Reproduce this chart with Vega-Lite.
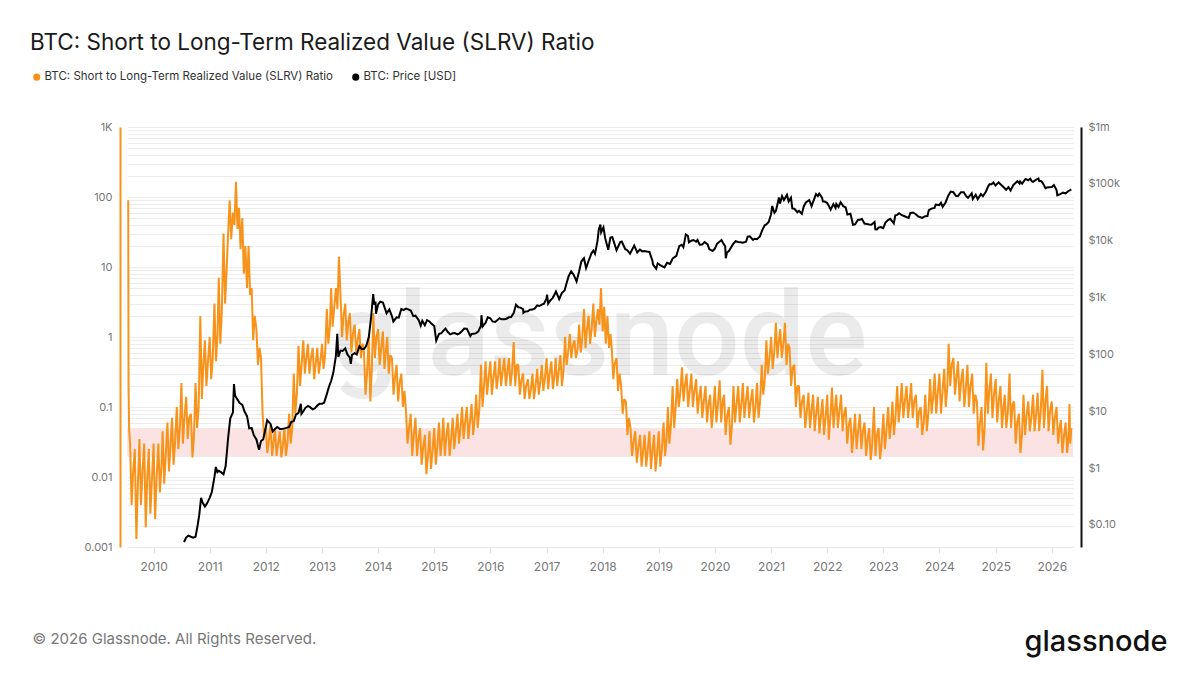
{
  "$schema": "https://vega.github.io/schema/vega-lite/v6.json",
  "width": 946,
  "height": 420,
  "autosize": {"type": "none"},
  "padding": {"left": 127, "top": 127, "right": 127, "bottom": 128},
  "background": "white",
  "title": {
    "text": "BTC: Short to Long-Term Realized Value (SLRV) Ratio",
    "anchor": "start",
    "frame": "group",
    "dx": -97,
    "offset": 17,
    "fontSize": 22.5,
    "fontWeight": 400,
    "font": "Inter",
    "color": "#1a1a1a"
  },
  "config": {
    "view": {"stroke": null},
    "font": "Inter"
  },
  "datasets": {
    "band": [{"lo": 0.02, "hi": 0.05}],
    "wm": [{"t": "glassnode"}],
    "slrv": [
      {"d":"2009-07-20","v":90},{"d":"2009-07-22","v":0.19},{"d":"2009-07-26","v":0.047},
      {"d":"2009-08-01","v":0.03},{"d":"2009-08-11","v":0.004},{"d":"2009-08-21","v":0.012},
      {"d":"2009-09-01","v":0.025},{"d":"2009-09-11","v":0.0013},{"d":"2009-09-21","v":0.008},
      {"d":"2009-10-01","v":0.035},{"d":"2009-10-11","v":0.004},{"d":"2009-10-21","v":0.012},
      {"d":"2009-11-01","v":0.03},{"d":"2009-11-11","v":0.0019},{"d":"2009-11-21","v":0.01},
      {"d":"2009-12-01","v":0.025},{"d":"2009-12-11","v":0.003},{"d":"2009-12-21","v":0.009},
      {"d":"2010-01-01","v":0.03},{"d":"2010-01-11","v":0.0025},{"d":"2010-01-21","v":0.01},
      {"d":"2010-02-01","v":0.03},{"d":"2010-02-11","v":0.006},{"d":"2010-02-21","v":0.014},
      {"d":"2010-03-01","v":0.045},{"d":"2010-03-11","v":0.008},{"d":"2010-03-21","v":0.02},
      {"d":"2010-04-01","v":0.06},{"d":"2010-04-11","v":0.012},{"d":"2010-04-21","v":0.028},
      {"d":"2010-05-01","v":0.07},{"d":"2010-05-11","v":0.015},{"d":"2010-05-21","v":0.032},
      {"d":"2010-06-01","v":0.1},{"d":"2010-06-11","v":0.025},{"d":"2010-06-21","v":0.05},
      {"d":"2010-07-01","v":0.22},{"d":"2010-07-11","v":0.03},{"d":"2010-07-21","v":0.07},
      {"d":"2010-08-01","v":0.14},{"d":"2010-08-11","v":0.035},{"d":"2010-08-21","v":0.07},
      {"d":"2010-09-01","v":0.08},{"d":"2010-09-11","v":0.019},{"d":"2010-09-21","v":0.04},
      {"d":"2010-10-01","v":0.22},{"d":"2010-10-11","v":0.05},{"d":"2010-10-21","v":0.1},
      {"d":"2010-11-01","v":2.0},{"d":"2010-11-11","v":0.13},{"d":"2010-11-21","v":0.4},
      {"d":"2010-12-01","v":0.9},{"d":"2010-12-11","v":0.2},{"d":"2010-12-21","v":0.45},
      {"d":"2011-01-01","v":1.0},{"d":"2011-01-11","v":0.25},{"d":"2011-01-21","v":0.5},
      {"d":"2011-02-01","v":3.0},{"d":"2011-02-11","v":0.45},{"d":"2011-02-21","v":1.1},
      {"d":"2011-03-01","v":7},{"d":"2011-03-11","v":0.8},{"d":"2011-03-21","v":2.3},
      {"d":"2011-04-01","v":30},{"d":"2011-04-11","v":3},{"d":"2011-04-21","v":9},
      {"d":"2011-05-01","v":30},{"d":"2011-05-11","v":90},{"d":"2011-05-21","v":25},
      {"d":"2011-06-01","v":60},{"d":"2011-06-11","v":40},{"d":"2011-06-21","v":165},
      {"d":"2011-07-01","v":35},{"d":"2011-07-11","v":70},{"d":"2011-07-21","v":18},
      {"d":"2011-08-01","v":50},{"d":"2011-08-11","v":8},{"d":"2011-08-21","v":20},
      {"d":"2011-09-01","v":5},{"d":"2011-09-11","v":20},{"d":"2011-09-21","v":4},
      {"d":"2011-10-01","v":5},{"d":"2011-10-11","v":0.9},{"d":"2011-10-21","v":2},
      {"d":"2011-11-01","v":1.3},{"d":"2011-11-11","v":0.4},{"d":"2011-11-21","v":0.7},
      {"d":"2011-12-01","v":0.5},{"d":"2011-12-11","v":0.08},{"d":"2011-12-21","v":0.04},
      {"d":"2012-01-01","v":0.05},{"d":"2012-01-11","v":0.022},{"d":"2012-01-21","v":0.033},
      {"d":"2012-02-01","v":0.055},{"d":"2012-02-11","v":0.02},{"d":"2012-02-21","v":0.032},
      {"d":"2012-03-01","v":0.05},{"d":"2012-03-11","v":0.02},{"d":"2012-03-21","v":0.03},
      {"d":"2012-04-01","v":0.045},{"d":"2012-04-11","v":0.019},{"d":"2012-04-21","v":0.028},
      {"d":"2012-05-01","v":0.05},{"d":"2012-05-11","v":0.02},{"d":"2012-05-21","v":0.03},
      {"d":"2012-06-01","v":0.08},{"d":"2012-06-11","v":0.03},{"d":"2012-06-21","v":0.05},
      {"d":"2012-07-01","v":0.3},{"d":"2012-07-11","v":0.08},{"d":"2012-07-21","v":0.15},
      {"d":"2012-08-01","v":0.75},{"d":"2012-08-11","v":0.2},{"d":"2012-08-21","v":0.4},
      {"d":"2012-09-01","v":0.9},{"d":"2012-09-11","v":0.3},{"d":"2012-09-21","v":0.5},
      {"d":"2012-10-01","v":0.8},{"d":"2012-10-11","v":0.3},{"d":"2012-10-21","v":0.5},
      {"d":"2012-11-01","v":0.7},{"d":"2012-11-11","v":0.25},{"d":"2012-11-21","v":0.42},
      {"d":"2012-12-01","v":0.7},{"d":"2012-12-11","v":0.3},{"d":"2012-12-21","v":0.45},
      {"d":"2013-01-01","v":0.8},{"d":"2013-01-11","v":0.35},{"d":"2013-01-21","v":0.55},
      {"d":"2013-02-01","v":2.5},{"d":"2013-02-11","v":0.8},{"d":"2013-02-21","v":1.4},
      {"d":"2013-03-01","v":5},{"d":"2013-03-11","v":1.4},{"d":"2013-03-21","v":2.6},
      {"d":"2013-04-01","v":5},{"d":"2013-04-11","v":2.5},{"d":"2013-04-21","v":14},
      {"d":"2013-05-01","v":4},{"d":"2013-05-11","v":1.0},{"d":"2013-05-21","v":2},
      {"d":"2013-06-01","v":3},{"d":"2013-06-11","v":0.9},{"d":"2013-06-21","v":1.6},
      {"d":"2013-07-01","v":2.2},{"d":"2013-07-11","v":0.6},{"d":"2013-07-21","v":1.1},
      {"d":"2013-08-01","v":1.5},{"d":"2013-08-11","v":0.6},{"d":"2013-08-21","v":0.9},
      {"d":"2013-09-01","v":1.3},{"d":"2013-09-11","v":0.5},{"d":"2013-09-21","v":0.8},
      {"d":"2013-10-01","v":0.6},{"d":"2013-10-11","v":0.15},{"d":"2013-10-21","v":0.3},
      {"d":"2013-11-01","v":1.0},{"d":"2013-11-11","v":0.12},{"d":"2013-11-21","v":0.35},
      {"d":"2013-12-01","v":2.2},{"d":"2013-12-11","v":0.5},{"d":"2013-12-21","v":1.0},
      {"d":"2014-01-01","v":1.3},{"d":"2014-01-11","v":0.4},{"d":"2014-01-21","v":0.7},
      {"d":"2014-02-01","v":1.2},{"d":"2014-02-11","v":0.35},{"d":"2014-02-21","v":0.65},
      {"d":"2014-03-01","v":1.0},{"d":"2014-03-11","v":0.3},{"d":"2014-03-21","v":0.55},
      {"d":"2014-04-01","v":0.5},{"d":"2014-04-11","v":0.15},{"d":"2014-04-21","v":0.27},
      {"d":"2014-05-01","v":0.4},{"d":"2014-05-11","v":0.12},{"d":"2014-05-21","v":0.22},
      {"d":"2014-06-01","v":0.3},{"d":"2014-06-11","v":0.1},{"d":"2014-06-21","v":0.17},
      {"d":"2014-07-01","v":0.09},{"d":"2014-07-11","v":0.03},{"d":"2014-07-21","v":0.05},
      {"d":"2014-08-01","v":0.08},{"d":"2014-08-11","v":0.02},{"d":"2014-08-21","v":0.04},
      {"d":"2014-09-01","v":0.07},{"d":"2014-09-11","v":0.02},{"d":"2014-09-21","v":0.035},
      {"d":"2014-10-01","v":0.05},{"d":"2014-10-11","v":0.015},{"d":"2014-10-21","v":0.027},
      {"d":"2014-11-01","v":0.04},{"d":"2014-11-11","v":0.011},{"d":"2014-11-21","v":0.02},
      {"d":"2014-12-01","v":0.045},{"d":"2014-12-11","v":0.013},{"d":"2014-12-21","v":0.024},
      {"d":"2015-01-01","v":0.05},{"d":"2015-01-11","v":0.015},{"d":"2015-01-21","v":0.027},
      {"d":"2015-02-01","v":0.06},{"d":"2015-02-11","v":0.02},{"d":"2015-02-21","v":0.035},
      {"d":"2015-03-01","v":0.07},{"d":"2015-03-11","v":0.02},{"d":"2015-03-21","v":0.038},
      {"d":"2015-04-01","v":0.06},{"d":"2015-04-11","v":0.02},{"d":"2015-04-21","v":0.035},
      {"d":"2015-05-01","v":0.07},{"d":"2015-05-11","v":0.025},{"d":"2015-05-21","v":0.042},
      {"d":"2015-06-01","v":0.08},{"d":"2015-06-11","v":0.03},{"d":"2015-06-21","v":0.05},
      {"d":"2015-07-01","v":0.1},{"d":"2015-07-11","v":0.035},{"d":"2015-07-21","v":0.06},
      {"d":"2015-08-01","v":0.1},{"d":"2015-08-11","v":0.035},{"d":"2015-08-21","v":0.06},
      {"d":"2015-09-01","v":0.11},{"d":"2015-09-11","v":0.04},{"d":"2015-09-21","v":0.065},
      {"d":"2015-10-01","v":0.15},{"d":"2015-10-11","v":0.05},{"d":"2015-10-21","v":0.09},
      {"d":"2015-11-01","v":0.4},{"d":"2015-11-11","v":0.1},{"d":"2015-11-21","v":0.2},
      {"d":"2015-12-01","v":0.45},{"d":"2015-12-11","v":0.15},{"d":"2015-12-21","v":0.26},
      {"d":"2016-01-01","v":0.45},{"d":"2016-01-11","v":0.15},{"d":"2016-01-21","v":0.26},
      {"d":"2016-02-01","v":0.45},{"d":"2016-02-11","v":0.18},{"d":"2016-02-21","v":0.28},
      {"d":"2016-03-01","v":0.5},{"d":"2016-03-11","v":0.2},{"d":"2016-03-21","v":0.32},
      {"d":"2016-04-01","v":0.5},{"d":"2016-04-11","v":0.2},{"d":"2016-04-21","v":0.32},
      {"d":"2016-05-01","v":0.5},{"d":"2016-05-11","v":0.2},{"d":"2016-05-21","v":0.32},
      {"d":"2016-06-01","v":0.85},{"d":"2016-06-11","v":0.2},{"d":"2016-06-21","v":0.4},
      {"d":"2016-07-01","v":0.4},{"d":"2016-07-11","v":0.15},{"d":"2016-07-21","v":0.24},
      {"d":"2016-08-01","v":0.3},{"d":"2016-08-11","v":0.13},{"d":"2016-08-21","v":0.2},
      {"d":"2016-09-01","v":0.25},{"d":"2016-09-11","v":0.13},{"d":"2016-09-21","v":0.18},
      {"d":"2016-10-01","v":0.3},{"d":"2016-10-11","v":0.13},{"d":"2016-10-21","v":0.2},
      {"d":"2016-11-01","v":0.35},{"d":"2016-11-11","v":0.15},{"d":"2016-11-21","v":0.23},
      {"d":"2016-12-01","v":0.4},{"d":"2016-12-11","v":0.17},{"d":"2016-12-21","v":0.26},
      {"d":"2017-01-01","v":0.5},{"d":"2017-01-11","v":0.18},{"d":"2017-01-21","v":0.3},
      {"d":"2017-02-01","v":0.45},{"d":"2017-02-11","v":0.18},{"d":"2017-02-21","v":0.28},
      {"d":"2017-03-01","v":0.5},{"d":"2017-03-11","v":0.2},{"d":"2017-03-21","v":0.32},
      {"d":"2017-04-01","v":0.55},{"d":"2017-04-11","v":0.2},{"d":"2017-04-21","v":0.33},
      {"d":"2017-05-01","v":1.0},{"d":"2017-05-11","v":0.4},{"d":"2017-05-21","v":0.6},
      {"d":"2017-06-01","v":1.1},{"d":"2017-06-11","v":0.5},{"d":"2017-06-21","v":0.75},
      {"d":"2017-07-01","v":0.9},{"d":"2017-07-11","v":0.5},{"d":"2017-07-21","v":0.65},
      {"d":"2017-08-01","v":1.5},{"d":"2017-08-11","v":0.6},{"d":"2017-08-21","v":0.95},
      {"d":"2017-09-01","v":2.5},{"d":"2017-09-11","v":0.7},{"d":"2017-09-21","v":1.3},
      {"d":"2017-10-01","v":2.0},{"d":"2017-10-11","v":0.8},{"d":"2017-10-21","v":1.3},
      {"d":"2017-11-01","v":3.0},{"d":"2017-11-11","v":1.0},{"d":"2017-11-21","v":1.7},
      {"d":"2017-12-01","v":2.5},{"d":"2017-12-11","v":1.5},{"d":"2017-12-21","v":5.0},
      {"d":"2018-01-01","v":1.2},{"d":"2018-01-11","v":2.7},{"d":"2018-01-21","v":0.8},
      {"d":"2018-02-01","v":2.0},{"d":"2018-02-11","v":0.7},{"d":"2018-02-21","v":1.1},
      {"d":"2018-03-01","v":0.7},{"d":"2018-03-11","v":0.25},{"d":"2018-03-21","v":0.42},
      {"d":"2018-04-01","v":0.5},{"d":"2018-04-11","v":0.17},{"d":"2018-04-21","v":0.3},
      {"d":"2018-05-01","v":0.2},{"d":"2018-05-11","v":0.08},{"d":"2018-05-21","v":0.13},
      {"d":"2018-06-01","v":0.12},{"d":"2018-06-11","v":0.04},{"d":"2018-06-21","v":0.07},
      {"d":"2018-07-01","v":0.05},{"d":"2018-07-11","v":0.02},{"d":"2018-07-21","v":0.032},
      {"d":"2018-08-01","v":0.045},{"d":"2018-08-11","v":0.016},{"d":"2018-08-21","v":0.027},
      {"d":"2018-09-01","v":0.04},{"d":"2018-09-11","v":0.014},{"d":"2018-09-21","v":0.024},
      {"d":"2018-10-01","v":0.04},{"d":"2018-10-11","v":0.014},{"d":"2018-10-21","v":0.024},
      {"d":"2018-11-01","v":0.045},{"d":"2018-11-11","v":0.013},{"d":"2018-11-21","v":0.024},
      {"d":"2018-12-01","v":0.04},{"d":"2018-12-11","v":0.012},{"d":"2018-12-21","v":0.022},
      {"d":"2019-01-01","v":0.045},{"d":"2019-01-11","v":0.014},{"d":"2019-01-21","v":0.025},
      {"d":"2019-02-01","v":0.06},{"d":"2019-02-11","v":0.02},{"d":"2019-02-21","v":0.035},
      {"d":"2019-03-01","v":0.1},{"d":"2019-03-11","v":0.03},{"d":"2019-03-21","v":0.055},
      {"d":"2019-04-01","v":0.2},{"d":"2019-04-11","v":0.05},{"d":"2019-04-21","v":0.1},
      {"d":"2019-05-01","v":0.25},{"d":"2019-05-11","v":0.1},{"d":"2019-05-21","v":0.16},
      {"d":"2019-06-01","v":0.37},{"d":"2019-06-11","v":0.12},{"d":"2019-06-21","v":0.21},
      {"d":"2019-07-01","v":0.3},{"d":"2019-07-11","v":0.1},{"d":"2019-07-21","v":0.17},
      {"d":"2019-08-01","v":0.3},{"d":"2019-08-11","v":0.1},{"d":"2019-08-21","v":0.17},
      {"d":"2019-09-01","v":0.25},{"d":"2019-09-11","v":0.08},{"d":"2019-09-21","v":0.14},
      {"d":"2019-10-01","v":0.2},{"d":"2019-10-11","v":0.07},{"d":"2019-10-21","v":0.12},
      {"d":"2019-11-01","v":0.2},{"d":"2019-11-11","v":0.06},{"d":"2019-11-21","v":0.11},
      {"d":"2019-12-01","v":0.15},{"d":"2019-12-11","v":0.05},{"d":"2019-12-21","v":0.09},
      {"d":"2020-01-01","v":0.2},{"d":"2020-01-11","v":0.06},{"d":"2020-01-21","v":0.11},
      {"d":"2020-02-01","v":0.24},{"d":"2020-02-11","v":0.06},{"d":"2020-02-21","v":0.12},
      {"d":"2020-03-01","v":0.15},{"d":"2020-03-11","v":0.04},{"d":"2020-03-21","v":0.075},
      {"d":"2020-04-01","v":0.1},{"d":"2020-04-11","v":0.029},{"d":"2020-04-21","v":0.055},
      {"d":"2020-05-01","v":0.2},{"d":"2020-05-11","v":0.06},{"d":"2020-05-21","v":0.11},
      {"d":"2020-06-01","v":0.2},{"d":"2020-06-11","v":0.06},{"d":"2020-06-21","v":0.11},
      {"d":"2020-07-01","v":0.22},{"d":"2020-07-11","v":0.07},{"d":"2020-07-21","v":0.12},
      {"d":"2020-08-01","v":0.2},{"d":"2020-08-11","v":0.07},{"d":"2020-08-21","v":0.12},
      {"d":"2020-09-01","v":0.18},{"d":"2020-09-11","v":0.06},{"d":"2020-09-21","v":0.1},
      {"d":"2020-10-01","v":0.22},{"d":"2020-10-11","v":0.07},{"d":"2020-10-21","v":0.12},
      {"d":"2020-11-01","v":0.4},{"d":"2020-11-11","v":0.15},{"d":"2020-11-21","v":0.25},
      {"d":"2020-12-01","v":0.9},{"d":"2020-12-11","v":0.3},{"d":"2020-12-21","v":0.5},
      {"d":"2021-01-01","v":1.0},{"d":"2021-01-11","v":0.35},{"d":"2021-01-21","v":0.6},
      {"d":"2021-02-01","v":1.6},{"d":"2021-02-11","v":0.5},{"d":"2021-02-21","v":0.9},
      {"d":"2021-03-01","v":1.3},{"d":"2021-03-11","v":0.5},{"d":"2021-03-21","v":0.8},
      {"d":"2021-04-01","v":1.6},{"d":"2021-04-11","v":0.4},{"d":"2021-04-21","v":0.8},
      {"d":"2021-05-01","v":0.7},{"d":"2021-05-11","v":0.2},{"d":"2021-05-21","v":0.37},
      {"d":"2021-06-01","v":0.4},{"d":"2021-06-11","v":0.1},{"d":"2021-06-21","v":0.2},
      {"d":"2021-07-01","v":0.2},{"d":"2021-07-11","v":0.07},{"d":"2021-07-21","v":0.12},
      {"d":"2021-08-01","v":0.15},{"d":"2021-08-11","v":0.05},{"d":"2021-08-21","v":0.085},
      {"d":"2021-09-01","v":0.16},{"d":"2021-09-11","v":0.05},{"d":"2021-09-21","v":0.09},
      {"d":"2021-10-01","v":0.15},{"d":"2021-10-11","v":0.045},{"d":"2021-10-21","v":0.08},
      {"d":"2021-11-01","v":0.14},{"d":"2021-11-11","v":0.042},{"d":"2021-11-21","v":0.075},
      {"d":"2021-12-01","v":0.13},{"d":"2021-12-11","v":0.04},{"d":"2021-12-21","v":0.07},
      {"d":"2022-01-01","v":0.15},{"d":"2022-01-11","v":0.034},{"d":"2022-01-21","v":0.07},
      {"d":"2022-02-01","v":0.19},{"d":"2022-02-11","v":0.05},{"d":"2022-02-21","v":0.1},
      {"d":"2022-03-01","v":0.15},{"d":"2022-03-11","v":0.05},{"d":"2022-03-21","v":0.085},
      {"d":"2022-04-01","v":0.15},{"d":"2022-04-11","v":0.045},{"d":"2022-04-21","v":0.08},
      {"d":"2022-05-01","v":0.1},{"d":"2022-05-11","v":0.03},{"d":"2022-05-21","v":0.055},
      {"d":"2022-06-01","v":0.07},{"d":"2022-06-11","v":0.022},{"d":"2022-06-21","v":0.04},
      {"d":"2022-07-01","v":0.08},{"d":"2022-07-11","v":0.025},{"d":"2022-07-21","v":0.045},
      {"d":"2022-08-01","v":0.08},{"d":"2022-08-11","v":0.025},{"d":"2022-08-21","v":0.045},
      {"d":"2022-09-01","v":0.06},{"d":"2022-09-11","v":0.02},{"d":"2022-09-21","v":0.035},
      {"d":"2022-10-01","v":0.05},{"d":"2022-10-11","v":0.0175},{"d":"2022-10-21","v":0.03},
      {"d":"2022-11-01","v":0.1},{"d":"2022-11-11","v":0.02},{"d":"2022-11-21","v":0.04},
      {"d":"2022-12-01","v":0.05},{"d":"2022-12-11","v":0.018},{"d":"2022-12-21","v":0.03},
      {"d":"2023-01-01","v":0.08},{"d":"2023-01-11","v":0.025},{"d":"2023-01-21","v":0.045},
      {"d":"2023-02-01","v":0.1},{"d":"2023-02-11","v":0.035},{"d":"2023-02-21","v":0.06},
      {"d":"2023-03-01","v":0.12},{"d":"2023-03-11","v":0.04},{"d":"2023-03-21","v":0.07},
      {"d":"2023-04-01","v":0.2},{"d":"2023-04-11","v":0.06},{"d":"2023-04-21","v":0.11},
      {"d":"2023-05-01","v":0.22},{"d":"2023-05-11","v":0.07},{"d":"2023-05-21","v":0.12},
      {"d":"2023-06-01","v":0.2},{"d":"2023-06-11","v":0.07},{"d":"2023-06-21","v":0.12},
      {"d":"2023-07-01","v":0.22},{"d":"2023-07-11","v":0.07},{"d":"2023-07-21","v":0.12},
      {"d":"2023-08-01","v":0.15},{"d":"2023-08-11","v":0.05},{"d":"2023-08-21","v":0.085},
      {"d":"2023-09-01","v":0.1},{"d":"2023-09-11","v":0.04},{"d":"2023-09-21","v":0.06},
      {"d":"2023-10-01","v":0.15},{"d":"2023-10-11","v":0.045},{"d":"2023-10-21","v":0.08},
      {"d":"2023-11-01","v":0.25},{"d":"2023-11-11","v":0.08},{"d":"2023-11-21","v":0.14},
      {"d":"2023-12-01","v":0.3},{"d":"2023-12-11","v":0.08},{"d":"2023-12-21","v":0.16},
      {"d":"2024-01-01","v":0.3},{"d":"2024-01-11","v":0.08},{"d":"2024-01-21","v":0.16},
      {"d":"2024-02-01","v":0.35},{"d":"2024-02-11","v":0.1},{"d":"2024-02-21","v":0.19},
      {"d":"2024-03-01","v":0.8},{"d":"2024-03-11","v":0.2},{"d":"2024-03-21","v":0.4},
      {"d":"2024-04-01","v":0.5},{"d":"2024-04-11","v":0.15},{"d":"2024-04-21","v":0.27},
      {"d":"2024-05-01","v":0.45},{"d":"2024-05-11","v":0.12},{"d":"2024-05-21","v":0.23},
      {"d":"2024-06-01","v":0.35},{"d":"2024-06-11","v":0.1},{"d":"2024-06-21","v":0.19},
      {"d":"2024-07-01","v":0.4},{"d":"2024-07-11","v":0.1},{"d":"2024-07-21","v":0.2},
      {"d":"2024-08-01","v":0.3},{"d":"2024-08-11","v":0.08},{"d":"2024-08-21","v":0.15},
      {"d":"2024-09-01","v":0.12},{"d":"2024-09-11","v":0.028},{"d":"2024-09-21","v":0.06},
      {"d":"2024-10-01","v":0.1},{"d":"2024-10-11","v":0.024},{"d":"2024-10-21","v":0.05},
      {"d":"2024-11-01","v":0.43},{"d":"2024-11-11","v":0.08},{"d":"2024-11-21","v":0.18},
      {"d":"2024-12-01","v":0.3},{"d":"2024-12-11","v":0.07},{"d":"2024-12-21","v":0.15},
      {"d":"2025-01-01","v":0.25},{"d":"2025-01-11","v":0.06},{"d":"2025-01-21","v":0.12},
      {"d":"2025-02-01","v":0.2},{"d":"2025-02-11","v":0.05},{"d":"2025-02-21","v":0.1},
      {"d":"2025-03-01","v":0.15},{"d":"2025-03-11","v":0.05},{"d":"2025-03-21","v":0.085},
      {"d":"2025-04-01","v":0.3},{"d":"2025-04-11","v":0.05},{"d":"2025-04-21","v":0.11},
      {"d":"2025-05-01","v":0.12},{"d":"2025-05-11","v":0.03},{"d":"2025-05-21","v":0.06},
      {"d":"2025-06-01","v":0.08},{"d":"2025-06-11","v":0.022},{"d":"2025-06-21","v":0.04},
      {"d":"2025-07-01","v":0.15},{"d":"2025-07-11","v":0.04},{"d":"2025-07-21","v":0.075},
      {"d":"2025-08-01","v":0.12},{"d":"2025-08-11","v":0.045},{"d":"2025-08-21","v":0.07},
      {"d":"2025-09-01","v":0.15},{"d":"2025-09-11","v":0.045},{"d":"2025-09-21","v":0.08},
      {"d":"2025-10-01","v":0.16},{"d":"2025-10-11","v":0.045},{"d":"2025-10-21","v":0.085},
      {"d":"2025-11-01","v":0.34},{"d":"2025-11-11","v":0.05},{"d":"2025-11-21","v":0.12},
      {"d":"2025-12-01","v":0.2},{"d":"2025-12-11","v":0.045},{"d":"2025-12-21","v":0.09},
      {"d":"2026-01-01","v":0.12},{"d":"2026-01-11","v":0.04},{"d":"2026-01-21","v":0.07},
      {"d":"2026-02-01","v":0.1},{"d":"2026-02-11","v":0.03},{"d":"2026-02-21","v":0.05},
      {"d":"2026-03-01","v":0.065},{"d":"2026-03-11","v":0.022},{"d":"2026-03-21","v":0.038},
      {"d":"2026-04-01","v":0.06},{"d":"2026-04-11","v":0.022},{"d":"2026-04-21","v":0.04},
      {"d":"2026-04-26","v":0.11},{"d":"2026-05-01","v":0.03},{"d":"2026-05-08","v":0.05}
    ],
    "price": [
      {"d":"2010-07-18","p":0.05},{"d":"2010-07-25","p":0.055},{"d":"2010-08-01","p":0.06},{"d":"2010-08-15","p":0.065},
      {"d":"2010-09-01","p":0.062},{"d":"2010-09-15","p":0.06},{"d":"2010-10-01","p":0.062},{"d":"2010-10-15","p":0.1},
      {"d":"2010-10-25","p":0.15},{"d":"2010-11-06","p":0.3},{"d":"2010-11-15","p":0.25},{"d":"2010-12-01","p":0.21},
      {"d":"2010-12-15","p":0.24},{"d":"2011-01-01","p":0.3},{"d":"2011-01-15","p":0.38},{"d":"2011-02-01","p":0.7},
      {"d":"2011-02-10","p":1.05},{"d":"2011-02-20","p":0.85},{"d":"2011-03-01","p":0.9},{"d":"2011-03-15","p":0.85},
      {"d":"2011-04-01","p":0.78},{"d":"2011-04-15","p":1.1},{"d":"2011-05-01","p":3.4},{"d":"2011-05-15","p":7.5},
      {"d":"2011-06-01","p":9.5},{"d":"2011-06-08","p":30},{"d":"2011-06-15","p":19},{"d":"2011-07-01","p":16},
      {"d":"2011-07-15","p":14},{"d":"2011-08-01","p":13},{"d":"2011-08-15","p":10},{"d":"2011-09-01","p":8.2},
      {"d":"2011-09-15","p":5},{"d":"2011-10-01","p":5.1},{"d":"2011-10-15","p":3.8},{"d":"2011-11-01","p":3.2},
      {"d":"2011-11-18","p":2.1},{"d":"2011-12-01","p":3},{"d":"2011-12-15","p":3.2},{"d":"2012-01-01","p":5.2},
      {"d":"2012-01-10","p":7},{"d":"2012-02-01","p":6},{"d":"2012-02-15","p":4.4},{"d":"2012-03-01","p":4.9},
      {"d":"2012-03-15","p":5.3},{"d":"2012-04-01","p":4.9},{"d":"2012-04-15","p":4.9},{"d":"2012-05-01","p":5},
      {"d":"2012-05-15","p":5.1},{"d":"2012-06-01","p":5.3},{"d":"2012-06-15","p":6.5},{"d":"2012-07-01","p":6.7},
      {"d":"2012-07-15","p":8.7},{"d":"2012-08-01","p":9.4},{"d":"2012-08-16","p":13.5},{"d":"2012-08-20","p":9},
      {"d":"2012-09-01","p":10},{"d":"2012-09-15","p":11.5},{"d":"2012-10-01","p":12.4},{"d":"2012-10-15","p":11.8},
      {"d":"2012-11-01","p":10.8},{"d":"2012-11-15","p":11.2},{"d":"2012-12-01","p":12.6},{"d":"2012-12-15","p":13.5},
      {"d":"2013-01-01","p":13.5},{"d":"2013-01-15","p":14.2},{"d":"2013-02-01","p":20},{"d":"2013-02-15","p":27},
      {"d":"2013-03-01","p":34},{"d":"2013-03-15","p":47},{"d":"2013-04-01","p":93},{"d":"2013-04-10","p":230},
      {"d":"2013-04-17","p":90},{"d":"2013-05-01","p":117},{"d":"2013-05-15","p":115},{"d":"2013-06-01","p":128},
      {"d":"2013-06-15","p":100},{"d":"2013-07-01","p":88},{"d":"2013-07-07","p":68},{"d":"2013-07-15","p":98},
      {"d":"2013-08-01","p":105},{"d":"2013-08-15","p":100},{"d":"2013-09-01","p":140},{"d":"2013-09-15","p":125},
      {"d":"2013-10-01","p":125},{"d":"2013-10-15","p":140},{"d":"2013-11-01","p":200},{"d":"2013-11-15","p":420},
      {"d":"2013-11-30","p":1150},{"d":"2013-12-07","p":750},{"d":"2013-12-15","p":850},{"d":"2013-12-18","p":520},
      {"d":"2014-01-01","p":760},{"d":"2014-01-15","p":850},{"d":"2014-02-01","p":820},{"d":"2014-02-25","p":530},
      {"d":"2014-03-15","p":620},{"d":"2014-04-01","p":470},{"d":"2014-04-10","p":380},{"d":"2014-05-01","p":450},
      {"d":"2014-05-15","p":445},{"d":"2014-06-01","p":630},{"d":"2014-06-15","p":600},{"d":"2014-07-01","p":640},
      {"d":"2014-07-15","p":620},{"d":"2014-08-01","p":590},{"d":"2014-08-18","p":470},{"d":"2014-09-01","p":480},
      {"d":"2014-09-22","p":400},{"d":"2014-10-05","p":320},{"d":"2014-10-15","p":390},{"d":"2014-11-01","p":325},
      {"d":"2014-11-15","p":400},{"d":"2014-12-01","p":380},{"d":"2014-12-15","p":345},{"d":"2015-01-01","p":315},
      {"d":"2015-01-14","p":175},{"d":"2015-02-01","p":230},{"d":"2015-02-15","p":235},{"d":"2015-03-01","p":260},
      {"d":"2015-03-15","p":285},{"d":"2015-04-01","p":245},{"d":"2015-04-15","p":225},{"d":"2015-05-01","p":235},
      {"d":"2015-05-15","p":237},{"d":"2015-06-01","p":225},{"d":"2015-06-15","p":235},{"d":"2015-07-01","p":258},
      {"d":"2015-07-15","p":285},{"d":"2015-08-01","p":283},{"d":"2015-08-24","p":210},{"d":"2015-09-01","p":228},
      {"d":"2015-09-15","p":230},{"d":"2015-10-01","p":237},{"d":"2015-10-15","p":255},{"d":"2015-11-01","p":320},
      {"d":"2015-11-04","p":490},{"d":"2015-11-12","p":310},{"d":"2015-12-01","p":360},{"d":"2015-12-15","p":450},
      {"d":"2016-01-01","p":432},{"d":"2016-01-15","p":380},{"d":"2016-02-01","p":372},{"d":"2016-02-15","p":400},
      {"d":"2016-03-01","p":435},{"d":"2016-03-15","p":415},{"d":"2016-04-01","p":417},{"d":"2016-04-15","p":425},
      {"d":"2016-05-01","p":450},{"d":"2016-05-15","p":455},{"d":"2016-06-01","p":535},{"d":"2016-06-16","p":750},
      {"d":"2016-07-01","p":675},{"d":"2016-07-15","p":665},{"d":"2016-08-01","p":625},{"d":"2016-08-03","p":540},
      {"d":"2016-08-15","p":570},{"d":"2016-09-01","p":573},{"d":"2016-09-15","p":610},{"d":"2016-10-01","p":615},
      {"d":"2016-10-15","p":640},{"d":"2016-11-01","p":730},{"d":"2016-11-15","p":710},{"d":"2016-12-01","p":750},
      {"d":"2016-12-15","p":780},{"d":"2016-12-31","p":960},{"d":"2017-01-04","p":1130},{"d":"2017-01-11","p":780},
      {"d":"2017-01-25","p":890},{"d":"2017-02-10","p":990},{"d":"2017-02-25","p":1180},{"d":"2017-03-03","p":1280},
      {"d":"2017-03-24","p":940},{"d":"2017-04-10","p":1200},{"d":"2017-04-28","p":1330},{"d":"2017-05-10","p":1750},
      {"d":"2017-05-25","p":2400},{"d":"2017-06-10","p":2900},{"d":"2017-06-25","p":2550},{"d":"2017-07-15","p":1920},
      {"d":"2017-07-31","p":2850},{"d":"2017-08-15","p":4300},{"d":"2017-09-01","p":4900},{"d":"2017-09-15","p":3300},
      {"d":"2017-10-01","p":4400},{"d":"2017-10-20","p":6000},{"d":"2017-11-01","p":6700},{"d":"2017-11-12","p":5900},
      {"d":"2017-11-28","p":9800},{"d":"2017-12-07","p":16000},{"d":"2017-12-17","p":19300},{"d":"2017-12-22","p":14000},
      {"d":"2018-01-06","p":17200},{"d":"2018-01-17","p":11200},{"d":"2018-02-06","p":6900},{"d":"2018-02-20","p":11300},
      {"d":"2018-03-05","p":11500},{"d":"2018-04-01","p":6800},{"d":"2018-04-25","p":9500},{"d":"2018-05-05","p":9700},
      {"d":"2018-05-28","p":7100},{"d":"2018-06-10","p":6800},{"d":"2018-06-28","p":5900},{"d":"2018-07-25","p":8200},
      {"d":"2018-08-14","p":6200},{"d":"2018-08-31","p":7000},{"d":"2018-09-15","p":6500},{"d":"2018-10-01","p":6600},
      {"d":"2018-10-15","p":6450},{"d":"2018-11-01","p":6350},{"d":"2018-11-20","p":4500},{"d":"2018-11-25","p":3800},
      {"d":"2018-12-15","p":3200},{"d":"2018-12-25","p":4000},{"d":"2019-01-10","p":3700},{"d":"2019-02-07","p":3400},
      {"d":"2019-02-24","p":4100},{"d":"2019-03-15","p":3900},{"d":"2019-04-02","p":4900},{"d":"2019-04-25","p":5400},
      {"d":"2019-05-14","p":8000},{"d":"2019-05-30","p":8500},{"d":"2019-06-10","p":7700},{"d":"2019-06-26","p":12900},
      {"d":"2019-07-10","p":12100},{"d":"2019-07-16","p":9400},{"d":"2019-07-31","p":10000},{"d":"2019-08-15","p":10300},
      {"d":"2019-09-01","p":9600},{"d":"2019-09-10","p":10300},{"d":"2019-09-24","p":8500},{"d":"2019-10-10","p":8600},
      {"d":"2019-10-26","p":9500},{"d":"2019-11-15","p":8600},{"d":"2019-11-25","p":7100},{"d":"2019-12-17","p":6600},
      {"d":"2019-12-31","p":7200},{"d":"2020-01-15","p":8800},{"d":"2020-02-13","p":10300},{"d":"2020-02-28","p":8700},
      {"d":"2020-03-08","p":8000},{"d":"2020-03-12","p":4900},{"d":"2020-03-20","p":6200},{"d":"2020-04-01","p":6600},
      {"d":"2020-04-29","p":8800},{"d":"2020-05-15","p":9800},{"d":"2020-06-01","p":9500},{"d":"2020-06-15","p":9400},
      {"d":"2020-07-01","p":9200},{"d":"2020-07-22","p":9600},{"d":"2020-08-01","p":11800},{"d":"2020-08-15","p":11900},
      {"d":"2020-09-05","p":10300},{"d":"2020-09-15","p":10800},{"d":"2020-10-01","p":10600},{"d":"2020-10-20","p":11900},
      {"d":"2020-11-05","p":15500},{"d":"2020-11-20","p":18700},{"d":"2020-12-01","p":19400},{"d":"2020-12-16","p":21300},
      {"d":"2020-12-31","p":29000},{"d":"2021-01-08","p":40800},{"d":"2021-01-22","p":30800},{"d":"2021-02-01","p":33500},
      {"d":"2021-02-21","p":57400},{"d":"2021-02-28","p":45200},{"d":"2021-03-13","p":61000},{"d":"2021-03-25","p":52000},
      {"d":"2021-04-14","p":64000},{"d":"2021-04-25","p":49000},{"d":"2021-05-10","p":57000},{"d":"2021-05-19","p":37000},
      {"d":"2021-06-01","p":36500},{"d":"2021-06-21","p":31700},{"d":"2021-07-01","p":33500},{"d":"2021-07-20","p":29800},
      {"d":"2021-08-01","p":40000},{"d":"2021-08-15","p":47000},{"d":"2021-09-06","p":52000},{"d":"2021-09-21","p":40600},
      {"d":"2021-10-01","p":48100},{"d":"2021-10-20","p":66000},{"d":"2021-11-01","p":61000},{"d":"2021-11-10","p":67500},
      {"d":"2021-11-28","p":57300},{"d":"2021-12-04","p":49000},{"d":"2021-12-15","p":48900},{"d":"2021-12-31","p":46300},
      {"d":"2022-01-10","p":41800},{"d":"2022-01-23","p":35000},{"d":"2022-02-10","p":44000},{"d":"2022-02-24","p":37700},
      {"d":"2022-03-01","p":44400},{"d":"2022-03-15","p":39300},{"d":"2022-03-29","p":47400},{"d":"2022-04-15","p":40500},
      {"d":"2022-05-01","p":38500},{"d":"2022-05-12","p":28900},{"d":"2022-06-01","p":29800},{"d":"2022-06-18","p":19000},
      {"d":"2022-07-01","p":19300},{"d":"2022-07-20","p":23300},{"d":"2022-08-01","p":23300},{"d":"2022-08-14","p":24300},
      {"d":"2022-08-31","p":20000},{"d":"2022-09-15","p":19700},{"d":"2022-10-01","p":19300},{"d":"2022-10-15","p":19100},
      {"d":"2022-11-05","p":21300},{"d":"2022-11-10","p":15900},{"d":"2022-11-21","p":15800},{"d":"2022-12-01","p":17000},
      {"d":"2022-12-15","p":17400},{"d":"2022-12-31","p":16600},{"d":"2023-01-15","p":20900},{"d":"2023-01-31","p":23100},
      {"d":"2023-02-15","p":24300},{"d":"2023-03-10","p":20200},{"d":"2023-03-20","p":28000},{"d":"2023-04-01","p":28500},
      {"d":"2023-04-14","p":30500},{"d":"2023-05-01","p":28100},{"d":"2023-05-15","p":27200},{"d":"2023-06-15","p":25100},
      {"d":"2023-06-25","p":30500},{"d":"2023-07-13","p":31400},{"d":"2023-07-31","p":29200},{"d":"2023-08-17","p":26600},
      {"d":"2023-09-11","p":25200},{"d":"2023-09-30","p":27000},{"d":"2023-10-15","p":27200},{"d":"2023-10-24","p":34500},
      {"d":"2023-11-10","p":36700},{"d":"2023-11-30","p":37700},{"d":"2023-12-08","p":43300},{"d":"2023-12-31","p":42300},
      {"d":"2024-01-11","p":46400},{"d":"2024-01-22","p":39500},{"d":"2024-02-10","p":47100},{"d":"2024-02-28","p":62500},
      {"d":"2024-03-14","p":73100},{"d":"2024-03-31","p":71300},{"d":"2024-04-17","p":61300},{"d":"2024-04-30","p":60600},
      {"d":"2024-05-20","p":71400},{"d":"2024-06-07","p":71000},{"d":"2024-06-24","p":60300},{"d":"2024-07-05","p":56700},
      {"d":"2024-07-29","p":68300},{"d":"2024-08-05","p":54000},{"d":"2024-08-24","p":64100},{"d":"2024-09-06","p":53900},
      {"d":"2024-09-27","p":65800},{"d":"2024-10-10","p":60600},{"d":"2024-10-29","p":72700},{"d":"2024-11-13","p":90500},
      {"d":"2024-11-22","p":98400},{"d":"2024-12-05","p":98600},{"d":"2024-12-17","p":106000},{"d":"2024-12-31","p":93400},
      {"d":"2025-01-20","p":106000},{"d":"2025-02-03","p":97600},{"d":"2025-02-27","p":84700},{"d":"2025-03-10","p":78600},
      {"d":"2025-03-25","p":87500},{"d":"2025-04-08","p":76300},{"d":"2025-04-25","p":94700},{"d":"2025-05-22","p":111500},
      {"d":"2025-06-05","p":101500},{"d":"2025-06-09","p":110200},{"d":"2025-06-22","p":100900},{"d":"2025-07-14","p":122000},
      {"d":"2025-07-31","p":115700},{"d":"2025-08-14","p":123500},{"d":"2025-08-25","p":110000},{"d":"2025-09-01","p":108200},
      {"d":"2025-09-18","p":117000},{"d":"2025-10-06","p":124700},{"d":"2025-10-10","p":113000},{"d":"2025-10-25","p":111000},
      {"d":"2025-11-05","p":101000},{"d":"2025-11-21","p":84000},{"d":"2025-12-01","p":86000},{"d":"2025-12-15","p":87000},
      {"d":"2026-01-01","p":88000},{"d":"2026-01-15","p":95000},{"d":"2026-02-01","p":78000},{"d":"2026-02-06","p":63000},
      {"d":"2026-02-25","p":66000},{"d":"2026-03-15","p":70000},{"d":"2026-04-01","p":68000},{"d":"2026-04-20","p":75000},
      {"d":"2026-05-08","p":80000}
    ]
  },
  "layer": [
    {
      "layer": [
        {
          "data": {"name": "wm"},
          "mark": {"type": "text", "font": "Roboto", "fontSize": 116, "fontWeight": 500, "fill": "#000000", "opacity": 0.075, "align": "center", "baseline": "alphabetic"},
          "encoding": {
            "x": {"datum": {"year": 2017, "month": 12, "date": 13, "utc": true}, "type": "temporal"},
            "y": {"datum": 0.286},
            "text": {"field": "t"}
          }
        },
        {
          "data": {"name": "band"},
          "mark": {"type": "rect", "fill": "#fbe3e3"},
          "encoding": {
            "y": {"field": "lo", "type": "quantitative"},
            "y2": {"field": "hi"}
          }
        },
        {
          "data": {"name": "slrv"},
          "mark": {"type": "line", "strokeWidth": 2, "strokeJoin": "bevel", "clip": true},
          "encoding": {
            "x": {
              "field": "d",
              "type": "temporal",
              "scale": {"domain": [{"year": 2009, "month": 7, "date": 12, "utc": true}, {"year": 2026, "month": 5, "date": 19, "utc": true}]},
              "axis": {
                "format": "%Y",
                "tickCount": {"interval": "year", "step": 1},
                "grid": false,
                "domainColor": "#e6e6e6",
                "tickColor": "#e0e0e0",
                "tickSize": 6,
                "labelColor": "#777777",
                "labelFontSize": 12,
                "labelPadding": 8,
                "labelFont": "Inter",
                "title": "© 2026 Glassnode. All Rights Reserved.",
                "titleAnchor": "start",
                "titleAlign": "left",
                "titleX": -95,
                "titleY": 96,
                "titleBaseline": "alphabetic",
                "titleFontSize": 15,
                "titleFontWeight": 400,
                "titleColor": "#777777",
                "titleFont": "Inter"
              }
            },
            "y": {
              "field": "v",
              "type": "quantitative",
              "scale": {"type": "log", "domain": [0.001, 1000], "nice": false},
              "axis": {
                "orient": "left",
                "offset": 7,
                "values": [0.001,0.002,0.003,0.004,0.005,0.006,0.007,0.008,0.009,0.01,0.02,0.03,0.04,0.05,0.06,0.07,0.08,0.09,0.1,0.2,0.3,0.4,0.5,0.6,0.7,0.8,0.9,1,2,3,4,5,6,7,8,9,10,20,30,40,50,60,70,80,90,100,200,300,400,500,600,700,800,900,1000],
                "labelExpr": "datum.value == 1000 ? '1K' : datum.value == 100 ? '100' : datum.value == 10 ? '10' : datum.value == 1 ? '1' : datum.value == 0.1 ? '0.1' : datum.value == 0.01 ? '0.01' : datum.value == 0.001 ? '0.001' : ''",
                "labelOverlap": false,
                "ticks": false,
                "domainColor": "#f7931a",
                "domainWidth": 2,
                "grid": true,
                "gridColor": "#ececec",
                "gridWidth": 1,
                "labelColor": "#777777",
                "labelFontSize": 11,
                "labelFont": "Inter",
                "labelPadding": 8,
                "title": null
              }
            },
            "color": {
              "datum": "BTC: Short to Long-Term Realized Value (SLRV) Ratio",
              "type": "nominal",
              "scale": {"domain": ["BTC: Short to Long-Term Realized Value (SLRV) Ratio", "BTC: Price [USD]"], "range": ["#f7931a", "#000000"]},
              "legend": {
                "orient": "none",
                "legendX": -96,
                "legendY": -56,
                "direction": "horizontal",
                "title": null,
                "symbolType": "circle",
                "symbolSize": 50,
                "symbolStrokeWidth": 0,
                "labelFontSize": 11.5,
                "labelColor": "#333333",
                "labelFont": "Inter",
                "labelLimit": 500,
                "labelOffset": 2,
                "columnPadding": 17,
                "encode": {"symbols": {"update": {"fill": {"scale": "color", "field": "value"}, "fillOpacity": {"value": 1}}}}
              }
            }
          }
        }
      ]
    },
    {
      "data": {"name": "price"},
      "mark": {"type": "line", "strokeWidth": 2, "clip": true},
      "encoding": {
        "x": {"field": "d", "type": "temporal"},
        "y": {
          "field": "p",
          "type": "quantitative",
          "scale": {"type": "log", "domain": [0.041, 1000000], "nice": false},
          "axis": {
            "orient": "right",
            "offset": 8,
            "values": [0.1, 1, 10, 100, 1000, 10000, 100000, 1000000],
            "labelExpr": "datum.value >= 1000000 ? '$1m' : datum.value >= 1000 ? '$' + format(datum.value / 1000, 'd') + 'k' : datum.value >= 1 ? '$' + format(datum.value, 'd') : '$0.10'",
            "labelOverlap": false,
            "ticks": false,
            "grid": false,
            "domainColor": "#111111",
            "domainWidth": 2,
            "labelColor": "#777777",
            "labelFontSize": 11,
            "labelFont": "Inter",
            "labelPadding": 7,
            "title": "glassnode",
            "titleAngle": 0,
            "titleX": 86,
            "titleY": 523,
            "titleAlign": "right",
            "titleBaseline": "alphabetic",
            "titleFontSize": 29,
            "titleFontWeight": 500,
            "titleColor": "#111111",
            "titleFont": "Inter"
          }
        },
        "color": {"datum": "BTC: Price [USD]", "type": "nominal"}
      }
    }
  ],
  "resolve": {"scale": {"y": "independent"}}
}
